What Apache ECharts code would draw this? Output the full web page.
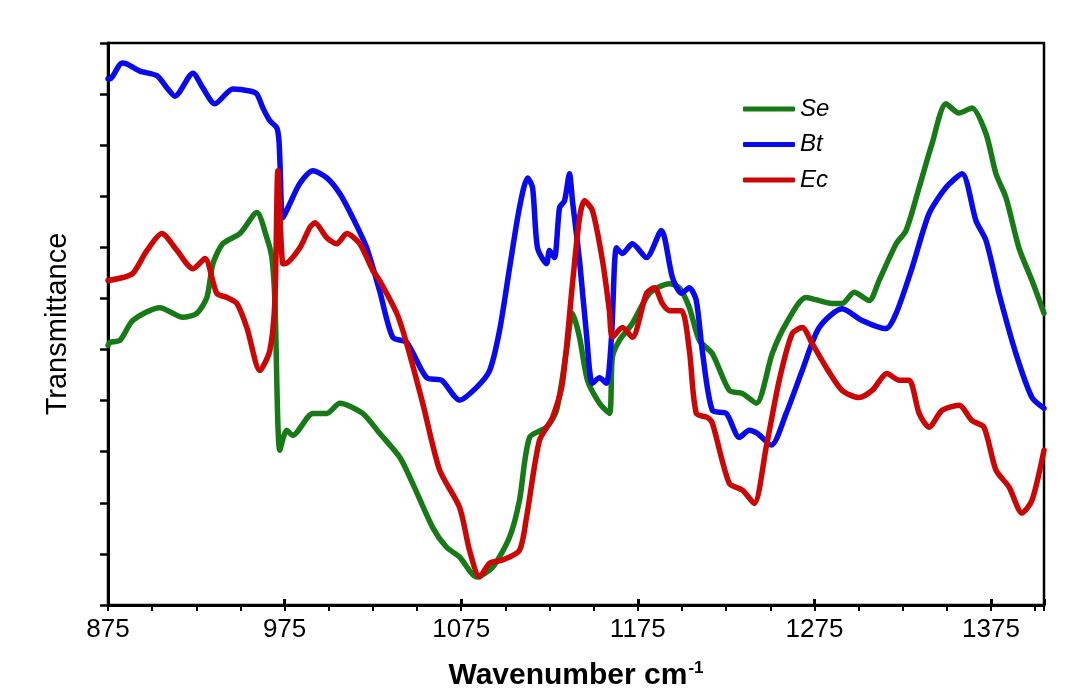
<!DOCTYPE html>
<html>
<head>
<meta charset="utf-8">
<script src="https://cdn.jsdelivr.net/npm/echarts@6/dist/echarts.min.js"></script>
<style>
html,body{margin:0;padding:0;background:#fff;}
#chart{width:1089px;height:700px;}
</style>
</head>
<body>
<div id="chart"></div>
<script>
// Wavenumber (cm-1) and transmittance (arbitrary units)
const seX = [875,876.1,881.8,889.1,904.4,917.4,925.3,931.0,934.4,940.0,949.7,959.3,964.9,967.8,969.5,972.3,976.2,979.6,991.0,998.9,1006.3,1019.2,1028.8,1040.2,1047.5,1058.8,1066.7,1074.1,1083.7,1092.8,1102.4,1108.0,1113.7,1123.3,1129.0,1134.6,1138.0,1142.0,1146.5,1153.3,1158.9,1160.6,1164.6,1171.9,1181.6,1192.9,1198.5,1204.2,1209.8,1217.2,1226.8,1234.2,1242.1,1251.1,1259.0,1270.3,1285.1,1290.7,1297.5,1306.0,1311.6,1321.3,1326.9,1334.3,1341.6,1349.5,1356.9,1364.2,1372.2,1377.8,1383.5,1390.8,1398.2,1405];
const seY = [5.08,5.14,5.18,5.57,5.82,5.63,5.71,6.02,6.68,7.07,7.27,7.68,7.19,6.80,5.96,3.03,3.42,3.32,3.75,3.75,3.95,3.75,3.36,2.89,2.38,1.52,1.13,0.94,0.55,0.74,1.33,2.05,3.28,3.48,3.81,4.98,5.71,5.24,4.40,3.95,3.75,4.85,5.18,5.51,6.10,6.29,6.21,5.82,5.18,4.92,4.20,4.14,3.95,4.92,5.51,6.02,5.90,5.90,6.12,5.96,6.35,7.07,7.33,8.17,9.03,9.81,9.63,9.73,9.22,8.44,7.97,6.99,6.35,5.71];

const btX = [875,876.1,882.9,885.7,893.1,902.7,908.4,912.9,923.1,928.7,935.5,945.7,955.3,959.3,962.7,966.6,970.6,971.8,972.4,974.0,977.9,983.6,991.0,998.9,1006.3,1013.6,1021.5,1028.8,1036.2,1044.1,1055.4,1063.9,1074.1,1083.7,1091.1,1096.7,1102.4,1108.0,1112.6,1115.4,1118.2,1123.3,1125.0,1127.8,1130.7,1133.5,1136.3,1138.0,1142.0,1145.9,1149.3,1153.3,1157.2,1160.1,1162.9,1166.3,1171.9,1179.9,1188.3,1194.6,1199.7,1204.2,1208.1,1211.5,1217.2,1225.1,1232.5,1238.1,1242.6,1250.6,1259.0,1268.1,1277.7,1290.7,1302.0,1315.6,1321.3,1330.3,1339.9,1349.5,1358.6,1366.5,1372.2,1379.5,1389.1,1398.2,1405];
const btY = [10.3,10.3,10.61,10.59,10.45,10.36,10.12,9.96,10.41,10.12,9.81,10.10,10.06,10.00,9.73,9.48,9.34,9.09,8.64,7.58,7.85,8.25,8.50,8.36,8.05,7.58,6.99,6.15,5.24,5.14,4.45,4.40,4.01,4.26,4.59,5.37,6.60,7.78,8.36,8.17,6.99,6.68,6.94,6.80,7.78,7.91,8.44,7.91,6.74,5.31,4.34,4.45,4.34,5.24,6.99,6.88,7.07,6.80,7.33,6.41,6.10,6.21,5.96,4.98,3.81,3.75,3.28,3.42,3.36,3.13,3.75,4.59,5.43,5.80,5.57,5.41,5.71,6.60,7.66,8.17,8.44,7.52,7.13,6.10,4.92,4.06,3.85];

const ecX = [875,883.5,889.1,897.1,905.5,914.0,923.1,929.9,936.6,942.3,948.0,953.6,961.0,966.6,969.5,971.2,974.0,975.1,983.6,989.3,992.1,998.9,1004.5,1010.2,1017.5,1024.9,1028.8,1038.5,1044.1,1053.2,1062.8,1074.1,1079.7,1085.4,1091.1,1098.4,1108.0,1112.0,1119.3,1126.7,1132.3,1138.0,1142.0,1144.8,1149.3,1155.0,1158.9,1160.6,1166.3,1171.9,1179.9,1184.4,1188.9,1192.9,1199.7,1204.2,1208.1,1214.4,1217.2,1226.8,1234.2,1240.9,1247.7,1255.1,1262.4,1268.1,1273.7,1281.7,1290.7,1300.3,1307.7,1316.2,1322.9,1328.6,1334.3,1339.9,1347.3,1356.9,1364.2,1371.0,1377.8,1385.2,1392.5,1398.2,1405];
const ecY = [6.35,6.41,6.49,6.94,7.27,6.94,6.58,6.78,6.10,6.02,5.90,5.43,4.59,4.98,5.96,8.50,6.68,6.68,6.99,7.39,7.48,7.19,7.07,7.27,7.07,6.55,6.35,5.71,5.12,3.95,2.64,1.91,1.07,0.55,0.82,0.88,1.07,1.72,3.22,3.67,4.34,6.29,7.58,7.91,7.72,6.74,5.76,5.24,5.43,5.24,6.10,6.21,5.90,5.76,5.76,4.98,3.75,3.67,3.56,2.38,2.25,1.99,3.09,4.40,5.31,5.43,5.12,4.65,4.20,4.06,4.20,4.53,4.40,4.40,3.75,3.48,3.81,3.91,3.61,3.48,2.64,2.31,1.80,2.05,3.03];

const seriesNames = ['Se', 'Bt', 'Ec'];
const seriesColors = ['#177a17', '#0a0aee', '#cc0505'];
const xTickLabels = [875, 975, 1075, 1175, 1275, 1375];

function pairs(xs, ys) { return xs.map((x, i) => [x, ys[i]]); }
const seriesData = [pairs(seX, seY), pairs(btX, btY), pairs(ecX, ecY)];

const chart = echarts.init(document.getElementById('chart'), null, {renderer: 'canvas'});
const FONT = '"Liberation Sans", Arial, sans-serif';

chart.setOption({
  animation: false,
  backgroundColor: '#ffffff',
  grid: {
    left: 108, top: 43, right: 45, bottom: 95,
    show: true, borderColor: '#000', borderWidth: 2.5, backgroundColor: 'transparent'
  },
  legend: {
    data: seriesNames,
    orient: 'vertical',
    left: 738, top: 92,
    itemWidth: 52, itemHeight: 5,
    itemGap: 11.5,
    icon: 'roundRect',
    textStyle: {fontFamily: FONT, fontSize: 24, fontStyle: 'italic', color: '#000', lineHeight: 24}
  },
  xAxis: [{
    type: 'value', min: 875, max: 1405, interval: 25,
    name: '{a|Wavenumber cm}{b|-1}',
    nameLocation: 'middle', nameGap: 55,
    nameTextStyle: {
      rich: {
        a: {fontFamily: FONT, fontSize: 30, fontWeight: 'bold', color: '#000'},
        b: {fontFamily: FONT, fontSize: 17, fontWeight: 'bold', color: '#000', padding: [0, 0, 14, 1]}
      }
    },
    axisLine: {show: true, onZero: false, lineStyle: {color: '#000', width: 3}},
    axisTick: {show: true, inside: false, length: 6, lineStyle: {color: '#000', width: 2}},
    axisLabel: {
      show: true, margin: 12, color: '#000', fontFamily: FONT, fontSize: 26,
      formatter: function (v) { return xTickLabels.indexOf(v) >= 0 ? String(v) : ''; }
    },
    splitLine: {show: false}
  }, {
    type: 'value', min: 875, max: 1405, interval: 100, position: 'bottom',
    axisLine: {show: false},
    axisTick: {show: true, inside: true, length: 6, lineStyle: {color: '#000', width: 3}},
    axisLabel: {show: false},
    splitLine: {show: false}
  }],
  yAxis: {
    type: 'value', min: 0, max: 11, interval: 1,
    name: 'Transmittance', nameLocation: 'middle', nameGap: 36, nameRotate: 90,
    nameTextStyle: {fontFamily: FONT, fontSize: 29, color: '#000'},
    axisLine: {show: true, onZero: false, lineStyle: {color: '#000', width: 3}},
    axisTick: {show: true, inside: false, length: 8, lineStyle: {color: '#000', width: 2.5}},
    axisLabel: {show: false},
    splitLine: {show: false}
  },
  series: seriesNames.map((name, i) => ({
    name: name,
    type: 'line',
    xAxisIndex: 0,
    data: seriesData[i],
    symbol: 'none',
    smooth: 0.25,
    color: seriesColors[i],
    lineStyle: {color: seriesColors[i], width: 5.5, join: 'round', cap: 'round'},
    z: 2 + i
  }))
});
</script>
</body>
</html>
